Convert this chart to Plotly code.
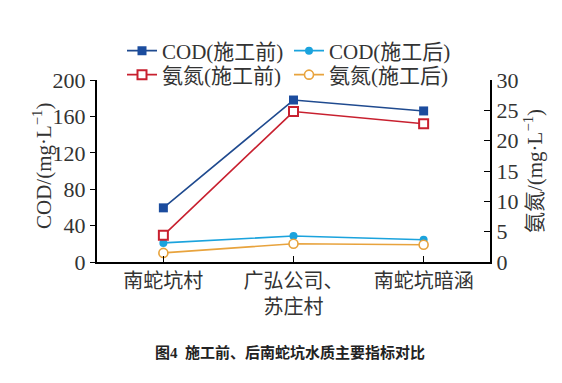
import plotly.graph_objects as go

categories = ["南蛇坑村", "广弘公司、<br>苏庄村", "南蛇坑暗涵"]
cod_before = [59.5, 178, 166]
cod_after = [21, 28.5, 24.5]
nh_before = [4.4, 24.8, 22.8]
nh_after = [1.5, 3.0, 2.85]

left_ticks = [0, 40, 80, 120, 160, 200]
right_ticks = [0, 5, 10, 15, 20, 25, 30]

FONT = "Liberation Serif, Noto Sans CJK SC"
TXT = "#333333"
x = [0, 1, 2]

fig = go.Figure()
fig.add_trace(go.Scatter(x=x, y=cod_before, name="COD(施工前)", mode="lines+markers", legend="legend",
                         line=dict(color="#1F4A8F", width=1.6),
                         marker=dict(symbol="square", size=9, color="#1B4C9E")))
fig.add_trace(go.Scatter(x=x, y=cod_after, name="COD(施工后)", mode="lines+markers", legend="legend",
                         line=dict(color="#1BA3DD", width=1.6),
                         marker=dict(symbol="circle", size=8, color="#1BA3DD")))
fig.add_trace(go.Scatter(x=x, y=nh_before, name="氨氮(施工前)", mode="lines+markers", yaxis="y2",
                         legend="legend2",
                         line=dict(color="#C8202F", width=1.6),
                         marker=dict(symbol="square", size=9, color="white",
                                     line=dict(color="#C8202F", width=2))))
fig.add_trace(go.Scatter(x=x, y=nh_after, name="氨氮(施工后)", mode="lines+markers", yaxis="y2",
                         legend="legend2",
                         line=dict(color="#E8A33D", width=1.6),
                         marker=dict(symbol="circle", size=9, color="white",
                                     line=dict(color="#E8A33D", width=1.6))))

leg_common = dict(orientation="h", xanchor="left", yanchor="middle", entrywidth=122,
                  itemwidth=30, bgcolor="rgba(0,0,0,0)", xref="container", yref="container",
                  font=dict(family=FONT, size=21, color=TXT))

fig.update_layout(
    width=562, height=383,
    margin=dict(l=97, r=72, t=80, b=121, autoexpand=False),
    paper_bgcolor="white", plot_bgcolor="white",
    font=dict(family=FONT, size=18, color=TXT),
    showlegend=True,
    legend=dict(x=122 / 562, y=1 - 51 / 383, **leg_common),
    legend2=dict(x=122 / 562, y=1 - 75 / 383, **leg_common),
    xaxis=dict(tickmode="array", tickvals=x, ticktext=categories, range=[-0.51, 2.51],
               showline=True, linecolor="black", linewidth=2, ticks="inside", ticklen=6,
               tickcolor="black", showgrid=False, zeroline=False, automargin=False,
               tickfont=dict(family=FONT, size=20, color=TXT)),
    yaxis=dict(range=[0, 200], tickvals=left_ticks, showline=True, linecolor="black", linewidth=2,
               ticks="outside", ticklen=5, tickcolor="black", showgrid=False, zeroline=False,
               automargin=False,
               tickfont=dict(family=FONT, size=22, color=TXT)),
    yaxis2=dict(range=[0, 30], tickvals=right_ticks, overlaying="y", side="right", showline=True,
                linecolor="black", linewidth=2, ticks="inside", ticklen=6, tickcolor="black",
                showgrid=False, zeroline=False, automargin=False,
                tickfont=dict(family=FONT, size=22, color=TXT),
                title=dict(text="氨氮/(mg·L<sup>−1</sup>)", font=dict(family=FONT, size=21, color=TXT),
                           standoff=10)),
    annotations=[
        dict(text="COD/(mg·L<sup>−1</sup>)", xref="paper", yref="paper",
             x=(42 - 97) / 393, y=(262 - 166) / 182, xanchor="center", yanchor="middle",
             textangle=-90, showarrow=False, font=dict(family=FONT, size=21, color=TXT)),
        dict(text="<b>图4  施工前、后南蛇坑水质主要指标对比</b>", xref="paper", yref="paper",
             x=0.49, y=-0.495, xanchor="center", yanchor="middle", showarrow=False,
             font=dict(family=FONT, size=15, color="#222222")),
    ],
)

fig.write_html("out.html", config={"displayModeBar": False},
               post_script="document.body.style.margin='0';document.body.style.overflow='hidden';")
